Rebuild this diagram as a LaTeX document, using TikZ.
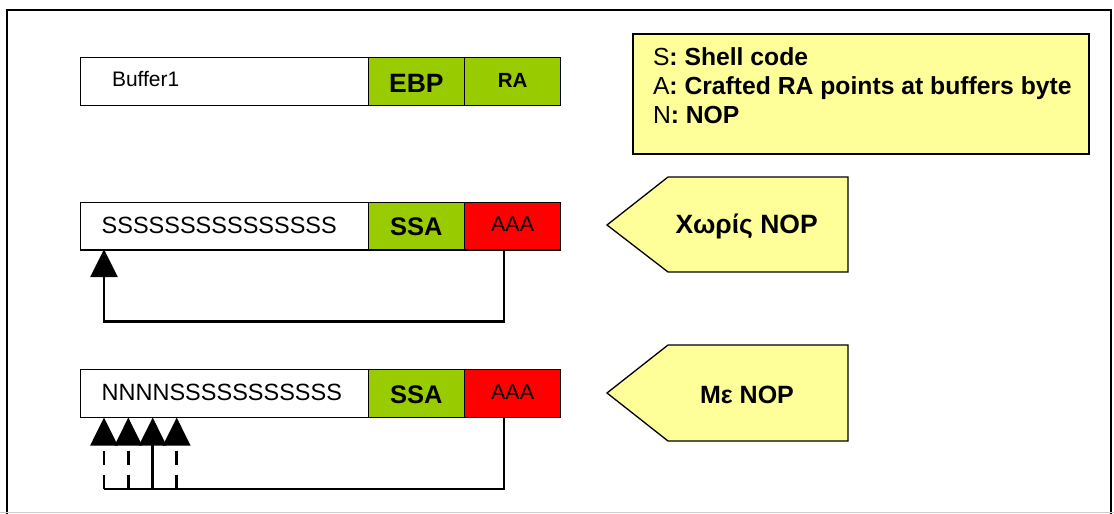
\documentclass[tikz,border=0pt]{standalone}
\usepackage{fontspec}
\setmainfont{Liberation Sans}
\usetikzlibrary{arrows.meta}
\definecolor{cellgreen}{HTML}{99CC00}
\definecolor{cellred}{HTML}{FF0000}
\definecolor{noteyellow}{HTML}{FFFF99}
\begin{document}
\begin{tikzpicture}[x=1pt,y=-1pt,
  cell/.style={draw, line width=1.3pt, inner sep=0pt, anchor=north west, minimum height=47.5pt},
  wide/.style={cell, fill=white, minimum width=287.5pt},
  mid/.style={cell, minimum width=96.5pt},
  last/.style={cell, minimum width=96pt},
  txt/.style={inner sep=0pt, outer sep=0pt},
  conn/.style={line width=2.7pt, line join=miter, -{Triangle[width=27pt,length=28pt]}},
  plain/.style={line width=2.7pt, line join=miter},
  dashconn/.style={conn, dash pattern=on 14pt off 10pt},
  pent/.style={draw, line width=1.3pt, fill=noteyellow, line join=miter}
]
\useasboundingbox (0,0) rectangle (1114,514);
% outer frame
\draw[line width=2pt] (7,530) -- (7,10) -- (1111,10) -- (1111,530);
\draw[line width=1pt, gray!40] (0,512.5) -- (1114,512.5);

% ---- row 1
\node[wide] (b1) at (80,57) {};
\node[mid, fill=cellgreen] (ebp) at (367.5,57) {};
\node[last, fill=cellgreen] (ra) at (464,57) {};
\node[txt, anchor=base west, font=\fontsize{21}{25}\selectfont] (tb1) at (112,86.8) {Buffer1};
\node[txt, anchor=base, font=\fontsize{26.5}{30}\selectfont\bfseries] (tebp) at (ebp.center |- 0,92.3) {EBP};
\node[txt, anchor=base, font=\fontsize{20.5}{24}\selectfont\bfseries] (tra) at (ra.center |- 0,87.3) {RA};

% ---- legend
\node[draw, line width=2pt, fill=noteyellow, anchor=north west, inner sep=0pt,
      minimum width=456.5pt, minimum height=119.7pt] (legend) at (631.5,33.3) {};
\begin{scope}[every node/.style={txt, anchor=base west, font=\fontsize{24.7}{29}\selectfont}]
\node (l1) at (653,65) {S\textbf{: Shell code}};
\node (l2) at (653,94.5) {A\textbf{: Crafted RA points at buffers byte}};
\node (l3) at (653,123.3) {N\textbf{: NOP}};
\end{scope}

% ---- row 2
\node[wide] (b2) at (80,201.7) {};
\node[mid, fill=cellgreen] (ssa2) at (367.5,201.7) {};
\node[last, fill=cellred] (aaa2) at (464,201.7) {};
\node[txt, anchor=base west, font=\fontsize{23.5}{28}\selectfont] (ts2) at (101.7,233.3) {SSSSSSSSSSSSSSS};
\node[txt, anchor=base, font=\fontsize{25.5}{30}\selectfont\bfseries] (tssa2) at (ssa2.center |- 0,235.7) {SSA};
\node[txt, anchor=base, font=\fontsize{21.5}{26}\selectfont] (taaa2) at (aaa2.center |- 0,231.7) {AAA};

\coordinate (s2) at (504,249.2);
\coordinate (s2d) at (504,321.7);
\coordinate (t2d) at (104,321.7);
\coordinate (t2) at (104,249.2);
\draw[conn] (s2) -- (s2d) -- (t2d) -- (t2);

% pentagon 1
\coordinate (p1a) at (607,225);
\coordinate (p1b) at (668,177);
\coordinate (p1c) at (848,177);
\coordinate (p1d) at (848,272);
\coordinate (p1e) at (668,272);
\draw[pent] (p1a) -- (p1b) -- (p1c) -- (p1d) -- (p1e) -- cycle;
\node[txt, anchor=base, font=\fontsize{26.5}{31}\selectfont\bfseries] (g1) at (746.7,233.3) {Χωρίς NOP};

% ---- row 3
\node[wide] (b3) at (80,369) {};
\node[mid, fill=cellgreen] (ssa3) at (367.5,369) {};
\node[last, fill=cellred] (aaa3) at (464,369) {};
\node[txt, anchor=base west, font=\fontsize{23.5}{28}\selectfont] (ts3) at (101.7,400.6) {NNNNSSSSSSSSSSS};
\node[txt, anchor=base, font=\fontsize{25.5}{30}\selectfont\bfseries] (tssa3) at (ssa3.center |- 0,403) {SSA};
\node[txt, anchor=base, font=\fontsize{21.5}{26}\selectfont] (taaa3) at (aaa3.center |- 0,399) {AAA};

\coordinate (s3) at (504,417.5);
\coordinate (s3d) at (504,489);
\coordinate (u1) at (104,489);
\coordinate (u2) at (128.3,489);
\coordinate (u3) at (152.7,489);
\coordinate (u4) at (176.7,489);
\coordinate (h1) at (104,417.5);
\coordinate (h2) at (128.3,417.5);
\coordinate (h3) at (152.7,417.5);
\coordinate (h4) at (176.7,417.5);
\draw[plain] (s3) -- (s3d) -- (u1);
\draw[dashconn] (u1) -- (h1);
\draw[dashconn] (u2) -- (h2);
\draw[conn] (u3) -- (h3);
\draw[dashconn] (u4) -- (h4);

% pentagon 2
\coordinate (p2a) at (607,393);
\coordinate (p2b) at (668,345);
\coordinate (p2c) at (848,345);
\coordinate (p2d) at (848,441);
\coordinate (p2e) at (668,441);
\draw[pent] (p2a) -- (p2b) -- (p2c) -- (p2d) -- (p2e) -- cycle;
\node[txt, anchor=base, font=\fontsize{25}{30}\selectfont\bfseries] (g2) at (747,403.3) {Με NOP};
\end{tikzpicture}
\end{document}
